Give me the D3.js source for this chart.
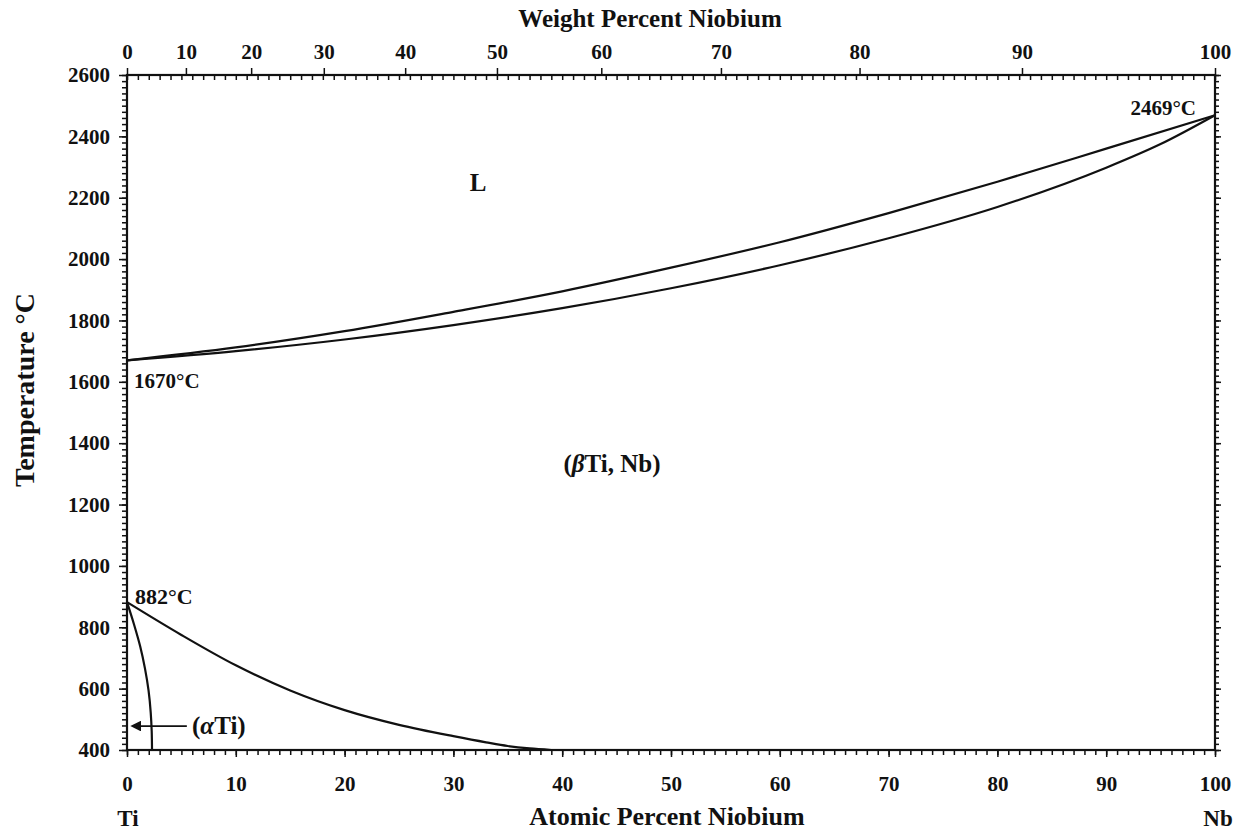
<!DOCTYPE html>
<html>
<head>
<meta charset="utf-8">
<script src="https://cdn.jsdelivr.net/npm/d3@7"></script>
<style>
  body { margin: 0; background: #fff; }
  text { font-family: "Liberation Serif", "Times New Roman", serif; font-weight: bold; fill: #111; }
  .tick line { stroke: #111; stroke-width: 1.5px; }
</style>
</head>
<body>
<div id="chart"></div>
<script>
// Ti-Nb phase diagram

// liquidus (upper curve), atomic percent Nb -> temperature
var liqAt   = [0, 10, 20, 30, 40, 50, 60, 70, 80, 90, 100];
var liqTemp = [1670, 1712, 1765, 1828, 1895, 1972, 2055, 2150, 2252, 2360, 2469];

// solidus (lower curve)
var solAt   = [0, 10, 20, 30, 40, 50, 60, 70, 80, 90, 95, 100];
var solTemp = [1670, 1700, 1738, 1785, 1840, 1905, 1980, 2068, 2170, 2298, 2375, 2469];

// beta transus
var betaAt   = [0, 5, 10, 15, 20, 25, 30, 33, 35, 37, 39];
var betaTemp = [882, 775, 676, 594, 530, 482, 445, 425, 413, 405, 400];

// alpha solvus
var alphaAt   = [0, 0.64, 1.21, 1.65, 1.98, 2.18, 2.27, 2.3];
var alphaTemp = [882, 810, 738, 666, 594, 522, 461, 400];

var atTicks   = [0, 10, 20, 30, 40, 50, 60, 70, 80, 90, 100];
var wtTicks   = [0, 10, 20, 30, 40, 50, 60, 70, 80, 90, 100];
var tempTicks = [400, 600, 800, 1000, 1200, 1400, 1600, 1800, 2000, 2200, 2400, 2600];

// atomic weights for converting weight percent to atomic percent
var massNb = 92.906, massTi = 47.867;
function wtToAt(w) {
  if (w == 0) return 0;
  if (w == 100) return 100;
  var a = w / massNb, b = (100 - w) / massTi;
  return 100 * a / (a + b);
}

var width = 1241, height = 831;

var x = d3.scaleLinear().domain([0, 100]).range([127, 1215]);
var y = d3.scaleLinear().domain([400, 2600]).range([750, 75]);

var svg = d3.select("#chart").append("svg")
    .attr("width", width)
    .attr("height", height);

function labelSize(size) {
  return function(g) { g.selectAll("text").style("font-size", size); };
}

// bottom axis: minor ticks every 1 at%
svg.append("g")
    .attr("transform", "translate(0,750)")
    .call(d3.axisBottom(x).tickValues(d3.range(0, 101, 1)).tickSize(5).tickFormat(""));
svg.append("g")
    .attr("transform", "translate(0,750)")
    .call(d3.axisBottom(x).tickValues(atTicks).tickSize(7).tickPadding(19))
    .call(labelSize("21px"));

// top axis: minor ticks inward, weight percent major ticks
svg.append("g")
    .attr("transform", "translate(0,75)")
    .call(d3.axisBottom(x).tickValues(d3.range(0, 101, 1)).tickSize(5).tickFormat(""));
svg.append("g")
    .attr("transform", "translate(0,75)")
    .call(d3.axisTop(x).tickValues(wtTicks.map(wtToAt)).tickSize(7).tickPadding(9)
      .tickFormat(function(d, i) { return wtTicks[i]; }))
    .call(labelSize("21px"));

// left axis
svg.append("g")
    .attr("transform", "translate(127,0)")
    .call(d3.axisLeft(y).tickValues(d3.range(400, 2601, 20)).tickSize(5).tickFormat(""));
svg.append("g")
    .attr("transform", "translate(127,0)")
    .call(d3.axisLeft(y).tickValues(tempTicks).tickSize(8).tickPadding(9).tickFormat(d3.format("d")))
    .call(labelSize("21px"));

// right axis
svg.append("g")
    .attr("transform", "translate(1215,0)")
    .call(d3.axisRight(y).tickValues(d3.range(400, 2601, 20)).tickSize(4).tickFormat(""));
svg.append("g")
    .attr("transform", "translate(1215,0)")
    .call(d3.axisRight(y).tickValues(tempTicks).tickSize(6).tickFormat(""));

svg.selectAll(".domain").remove();
svg.append("rect")
    .attr("x", x(0)).attr("y", y(2600))
    .attr("width", x(100) - x(0)).attr("height", y(400) - y(2600))
    .attr("fill", "none").attr("stroke", "#111").attr("stroke-width", 2.2);

// phase boundaries
var line = d3.line()
    .x(function(d) { return x(d[0]); })
    .y(function(d) { return y(d[1]); })
    .curve(d3.curveMonotoneX);

var lineV = d3.line()
    .x(function(d) { return x(d[0]); })
    .y(function(d) { return y(d[1]); })
    .curve(d3.curveMonotoneY);

function pairs(a, b) { return a.map(function(v, i) { return [v, b[i]]; }); }

svg.append("path").datum(pairs(liqAt, liqTemp))
    .attr("d", line).attr("fill", "none").attr("stroke", "#111").attr("stroke-width", 2.2);
svg.append("path").datum(pairs(solAt, solTemp))
    .attr("d", line).attr("fill", "none").attr("stroke", "#111").attr("stroke-width", 2.2);
svg.append("path").datum(pairs(betaAt, betaTemp))
    .attr("d", line).attr("fill", "none").attr("stroke", "#111").attr("stroke-width", 2.2);
svg.append("path").datum(pairs(alphaAt, alphaTemp))
    .attr("d", lineV).attr("fill", "none").attr("stroke", "#111").attr("stroke-width", 2.2);

// arrow for (aTi)
svg.append("defs").append("marker")
    .attr("id", "arrow")
    .attr("viewBox", "0 0 10 10")
    .attr("refX", 1).attr("refY", 5)
    .attr("markerWidth", 6).attr("markerHeight", 6)
    .attr("orient", "auto-start-reverse")
  .append("path").attr("d", "M0,0L10,5L0,10z").attr("fill", "#111");

svg.append("line")
    .attr("x1", x(5.5)).attr("x2", x(1.2))
    .attr("y1", y(478)).attr("y2", y(478))
    .attr("stroke", "#111").attr("stroke-width", 1.8)
    .attr("marker-end", "url(#arrow)");

// titles
svg.append("text").attr("x", 650).attr("y", 27)
    .attr("text-anchor", "middle").style("font-size", "25px")
    .text("Weight Percent Niobium");
svg.append("text").attr("x", 667).attr("y", 825)
    .attr("text-anchor", "middle").style("font-size", "26px")
    .text("Atomic Percent Niobium");
svg.append("text")
    .attr("transform", "translate(34,390) rotate(-90)")
    .attr("text-anchor", "middle").style("font-size", "28px")
    .text("Temperature °C");

svg.append("text").attr("x", 128).attr("y", 826)
    .attr("text-anchor", "middle").style("font-size", "23px").text("Ti");
svg.append("text").attr("x", 1218).attr("y", 826)
    .attr("text-anchor", "middle").style("font-size", "23px").text("Nb");

// region and point labels
svg.append("text").attr("x", 478).attr("y", 191)
    .attr("text-anchor", "middle").style("font-size", "25px").text("L");

var beta = svg.append("text").attr("x", 612).attr("y", 472)
    .attr("text-anchor", "middle").style("font-size", "25px");
beta.append("tspan").text("(");
beta.append("tspan").style("font-style", "italic").text("β");
beta.append("tspan").text("Ti, Nb)");

var alpha = svg.append("text").attr("x", 192).attr("y", 734)
    .style("font-size", "25px");
alpha.append("tspan").text("(");
alpha.append("tspan").style("font-style", "italic").text("α");
alpha.append("tspan").text("Ti)");

svg.append("text").attr("x", 134).attr("y", 388).style("font-size", "21px").text("1670°C");
svg.append("text").attr("x", 1196).attr("y", 115)
    .attr("text-anchor", "end").style("font-size", "21px").text("2469°C");
svg.append("text").attr("x", 135).attr("y", 604).style("font-size", "22px").text("882°C");
</script>
</body>
</html>
